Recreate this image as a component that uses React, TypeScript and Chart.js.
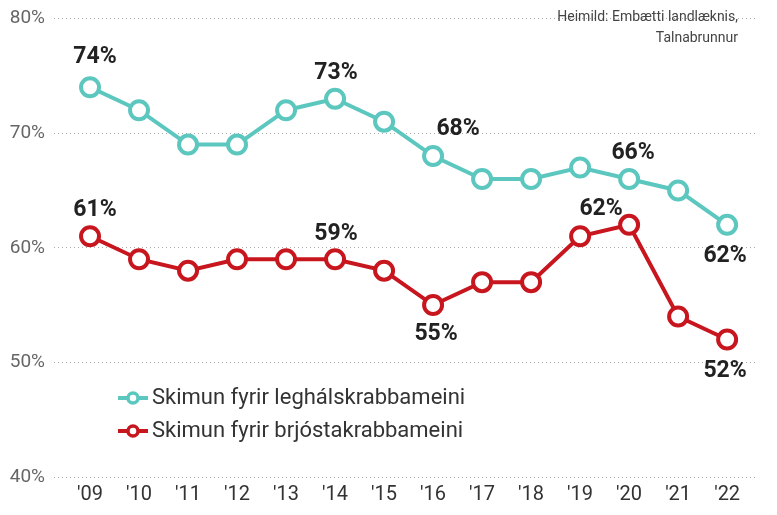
import React, { useEffect, useRef } from "react";
import { Chart, registerables } from "chart.js";

Chart.register(...registerables);

const years = ["'09", "'10", "'11", "'12", "'13", "'14", "'15", "'16", "'17", "'18", "'19", "'20", "'21", "'22"];
const cervical = [74, 72, 69, 69, 72, 73, 71, 68, 66, 66, 67, 66, 65, 62];
const breast = [61, 59, 58, 59, 59, 59, 58, 55, 57, 57, 61, 62, 54, 52];
// indices of points that carry a value label
const cervicalLabelIdx = [0, 5, 7, 11, 13];
const breastLabelIdx = [0, 5, 7, 11, 13];
const seriesNames = ["Skimun fyrir leghálskrabbameini", "Skimun fyrir brjóstakrabbameini"];
const sourceLines = ["Heimild: Embætti landlæknis,", "Talnabrunnur"];
const yTicks = [40, 50, 60, 70, 80];

// label offsets (style): [dx, dy] per labelled point
const cervicalLabelOffsets = [[5, -30], [1, -25], [25, -27], [4, -26], [-2, 31]];
const breastLabelOffsets = [[5, -26], [1, -25], [3, 29], [-28, -16], [-2, 32]];

const TEAL = "#5bc7be";
const RED = "#c8161e";
const FONT = "'Roboto', 'Noto Sans', sans-serif";

export default function App() {
  const ref = useRef<HTMLCanvasElement | null>(null);

  useEffect(() => {
    document.body.style.margin = "0";
    const canvas = ref.current;
    if (!canvas) return;

    const labelPlugin = {
      id: "labelsAndExtras",
      afterDatasetsDraw(chart: any) {
        const ctx = chart.ctx;
        ctx.save();
        const idxs = [cervicalLabelIdx, breastLabelIdx];
        const offs = [cervicalLabelOffsets, breastLabelOffsets];
        chart.data.datasets.forEach((ds: any, di: number) => {
          const meta = chart.getDatasetMeta(di);
          idxs[di].forEach((i: number, k: number) => {
            const pt = meta.data[i];
            const [dx, dy] = offs[di][k];
            ctx.font = `bold 23px ${FONT}`;
            ctx.fillStyle = "#222";
            ctx.textAlign = "center";
            ctx.textBaseline = "middle";
            ctx.fillText(ds.data[i].y + "%", pt.x + dx, pt.y + dy);
          });
        });
        // legend
        const lx = 118;
        const ly = [398, 431];
        [TEAL, RED].forEach((c, i) => {
          ctx.strokeStyle = c;
          ctx.lineWidth = 4;
          ctx.beginPath();
          ctx.moveTo(lx, ly[i]);
          ctx.lineTo(lx + 30, ly[i]);
          ctx.stroke();
          ctx.beginPath();
          ctx.arc(lx + 15, ly[i], 5, 0, Math.PI * 2);
          ctx.fillStyle = "#fff";
          ctx.fill();
          ctx.lineWidth = 3.5;
          ctx.stroke();
          ctx.fillStyle = "#333";
          ctx.font = `22px ${FONT}`;
          ctx.textAlign = "left";
          ctx.textBaseline = "middle";
          ctx.fillText(seriesNames[i], lx + 34, ly[i]);
        });
        // source
        ctx.fillStyle = "#444";
        ctx.font = `14px ${FONT}`;
        ctx.textAlign = "right";
        ctx.textBaseline = "middle";
        ctx.fillText(sourceLines[0], 738, 17);
        ctx.fillText(sourceLines[1], 738, 38);
        ctx.restore();
      },
    };

    const mk = (arr: number[]) => arr.map((v, i) => ({ x: i, y: v }));

    const ds = (label: string, arr: number[], color: string) => ({
      label,
      data: mk(arr),
      borderColor: color,
      backgroundColor: "#fff",
      borderWidth: 4,
      pointRadius: 9,
      pointBorderWidth: 4,
      pointBackgroundColor: "#fff",
      pointBorderColor: color,
    });

    const chart = new Chart(canvas, {
      type: "line",
      data: {
        datasets: [ds(seriesNames[0], cervical, TEAL), ds(seriesNames[1], breast, RED)],
      },
      options: {
        animation: false,
        responsive: false,
        layout: { padding: { top: 17, right: 19, left: 0, bottom: 0 } },
        plugins: { legend: { display: false }, tooltip: { enabled: false } },
        scales: {
          x: {
            type: "linear",
            min: -0.735,
            max: 13.63,
            afterFit: (s: any) => { s.height = 38; },
            afterBuildTicks: (s: any) => {
              s.ticks = years.map((_, i) => ({ value: i }));
            },
            ticks: {
              callback: (v: any) => years[v] ?? "",
              font: { size: 20, family: FONT },
              color: "#333",
              padding: 6,
              maxRotation: 0,
              autoSkip: false,
            },
            grid: { display: false, drawTicks: false },
            border: { display: false },
          },
          y: {
            min: 40,
            max: 80,
            afterFit: (s: any) => { s.width = 54; },
            afterBuildTicks: (s: any) => {
              s.ticks = yTicks.map((v) => ({ value: v }));
            },
            ticks: {
              callback: (v: any) => v + "%",
              font: { size: 19, family: FONT, lineHeight: 1 },
              color: "#666",
              padding: 9,
            },
            grid: { color: "#aaa", lineWidth: 1, drawTicks: false },
            border: { display: false, dash: [1, 3] },
          },
        },
      },
      plugins: [labelPlugin],
    } as any);

    return () => chart.destroy();
  }, []);

  return (
    <div style={{ width: 777, height: 515 }}>
      <canvas ref={ref} width={777} height={515} style={{ width: 777, height: 515 }} />
    </div>
  );
}
